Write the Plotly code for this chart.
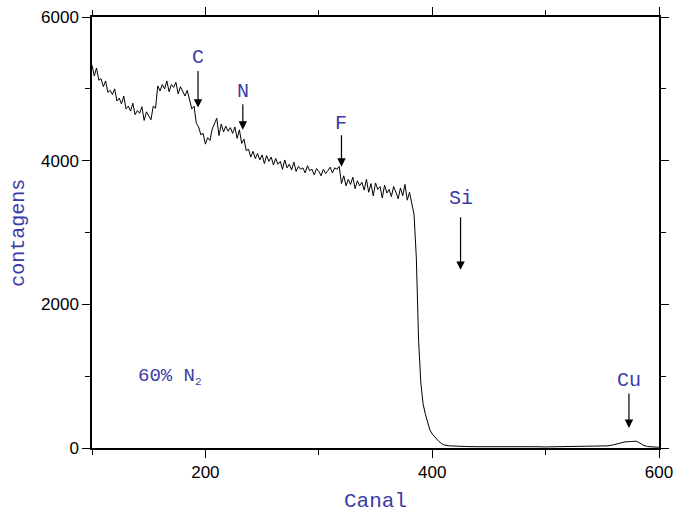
import plotly.graph_objects as go

# RBS spectrum: counts per channel, film deposited with 60% N2
channels_main = list(range(100, 412, 2))
counts_main = [
    5330, 5180, 5290, 5120, 5140, 5030, 5110, 4950, 4980, 4920, 5000, 4830, 4870, 4790,
    4900, 4720, 4760, 4690, 4800, 4640, 4700, 4660, 4750, 4560, 4680, 4620, 4570,
    4760, 4730, 5040, 4970, 5060, 5000, 5110, 4960, 5060, 5020, 5090, 4930, 5030, 4960,
    4900, 4980, 4830, 4720, 4760, 4520, 4470, 4360, 4380, 4230, 4320, 4280, 4440, 4510, 4590,
    4350, 4510, 4400, 4480, 4410, 4460, 4380, 4470, 4310, 4430, 4240, 4300, 4140, 4160,
    4050, 4130, 4030, 4100, 4010, 4080, 3960, 4070, 3990, 4050, 3940,
    4030, 3950, 3990, 3880, 4010, 3900, 3950, 3870, 3980, 3850, 3920, 3880, 3900, 3830,
    3930, 3860, 3880, 3800, 3890, 3850, 3790, 3880, 3820, 3860, 3910, 3830, 3900, 3880, 3920,
    3680, 3790, 3650, 3740, 3670, 3770, 3610, 3720, 3650, 3700, 3590, 3740, 3560, 3680,
    3510, 3690, 3600, 3640, 3480, 3660, 3550, 3600, 3500, 3640, 3560, 3470, 3620, 3510,
    3670, 3450, 3560,
    3380, 3250, 2650, 1500, 900, 610, 470, 360, 250, 195, 155, 120, 90, 65, 45,
]
channels_tail = [415, 420, 430, 440, 450, 460, 470, 480, 490, 500, 510, 520, 530, 540,
                 550, 555, 560, 565, 570, 575, 580, 583, 586, 590, 595, 600]
counts_tail = [30, 24, 20, 18, 20, 17, 18, 16, 18, 15, 17, 15, 18, 20,
               25, 30, 45, 70, 85, 90, 95, 70, 40, 20, 12, 10]

channels = channels_main + channels_tail
counts = counts_main + counts_tail

# element edge markers: label, channel, text level, arrow top, arrow tip
element_labels = ["C", "N", "F", "Si", "Cu"]
element_channels = [193.5, 233, 320, 425, 573.5]
element_text_y = [5435, 4962, 4516, 3470, 934]
element_arrow_top = [5268, 4808, 4376, 3233, 780]
element_arrow_tip = [4739, 4432, 3916, 2481, 279]

BLUE = "#3b3ba5"
MONO = "Liberation Mono, Courier New, monospace"
SANS = "Liberation Sans, Arial, sans-serif"

fig = go.Figure()
fig.add_trace(go.Scatter(x=channels, y=counts, mode="lines",
                         line=dict(color="black", width=1), showlegend=False))

annotations = []
for lab, ch, ty, at, tip in zip(element_labels, element_channels, element_text_y,
                                element_arrow_top, element_arrow_tip):
    annotations.append(dict(x=ch, y=ty, text=lab, showarrow=False, xref="x", yref="y",
                            font=dict(family=MONO, size=20, color=BLUE)))
    annotations.append(dict(x=ch, y=tip, ax=ch, ay=at, axref="x", ayref="y",
                            xref="x", yref="y", text="", showarrow=True,
                            arrowhead=2, arrowsize=1.4, arrowwidth=1.2,
                            arrowcolor="black"))

annotations.append(dict(x=168.8, y=990,
                        text="60% N<sub><span style='font-size:11px'>2</span></sub>",
                        showarrow=False, xref="x", yref="y",
                        font=dict(family=MONO, size=19, color=BLUE)))
annotations.append(dict(x=0.5, y=-0.125, xref="paper", yref="paper", text="Canal",
                        showarrow=False, yanchor="middle",
                        font=dict(family=MONO, size=21, color=BLUE)))
annotations.append(dict(x=-0.13, y=0.5, xref="paper", yref="paper", text="contagens",
                        showarrow=False, textangle=-90, xanchor="center",
                        font=dict(family=MONO, size=20, color=BLUE)))

axis_common = dict(showgrid=False, zeroline=False, showline=True, linecolor="black",
                   linewidth=1.5, mirror="ticks", ticks="outside", ticklen=8,
                   tickwidth=1.2, tickcolor="black", automargin=False,
                   tickfont=dict(family=SANS, size=17, color="black"))

fig.update_layout(
    width=677, height=517,
    margin=dict(l=92, r=18, t=17, b=69),
    paper_bgcolor="white", plot_bgcolor="white",
    xaxis=dict(range=[100, 600], tickvals=[200, 400, 600],
               minor=dict(tickvals=[100, 300, 500], ticks="outside", ticklen=5,
                          tickwidth=1.2, tickcolor="black"),
               **axis_common),
    yaxis=dict(range=[0, 6000], tickvals=[0, 2000, 4000, 6000],
               minor=dict(tickvals=[1000, 3000, 5000], ticks="outside", ticklen=5,
                          tickwidth=1.2, tickcolor="black"),
               **axis_common),
    annotations=annotations,
)

fig.write_html("out.html")
